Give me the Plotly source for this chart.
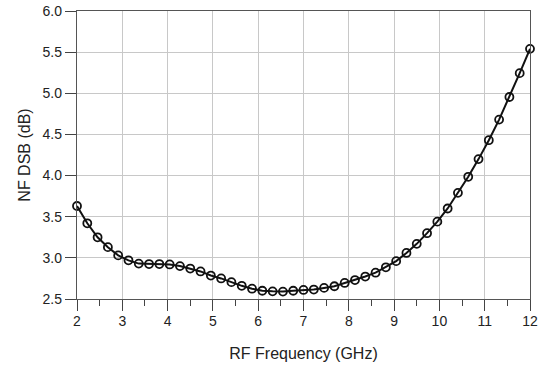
import plotly.graph_objects as go

freq_ghz = [2 + i * 10 / 44 for i in range(45)]
nf_dsb_db = [
    3.63, 3.42, 3.25, 3.13, 3.03, 2.97, 2.93, 2.925, 2.925, 2.92,
    2.90, 2.87, 2.835, 2.785, 2.75, 2.705, 2.66, 2.625, 2.60, 2.593,
    2.59, 2.60, 2.61, 2.615, 2.635, 2.655, 2.695, 2.73, 2.773, 2.82,
    2.885, 2.96, 3.06, 3.17, 3.30, 3.44, 3.60, 3.79, 3.985, 4.20,
    4.43, 4.68, 4.955, 5.245, 5.54,
]
x_ticks = list(range(2, 13))
y_ticks = [2.5, 3.0, 3.5, 4.0, 4.5, 5.0, 5.5, 6.0]
x_title = "RF Frequency (GHz)"
y_title = "NF DSB (dB)"

font_family = "Liberation Sans, Arial, sans-serif"

fig = go.Figure()
fig.add_trace(go.Scatter(
    x=freq_ghz, y=nf_dsb_db, mode="lines+markers",
    line=dict(color="#111111", width=2),
    marker=dict(symbol="circle-open", size=8, color="#111111",
                line=dict(width=1.8, color="#111111")),
    cliponaxis=False, showlegend=False,
))

fig.update_layout(
    width=543, height=367, autosize=False,
    margin=dict(l=77, r=13, t=11, b=68, pad=0, autoexpand=False),
    paper_bgcolor="white", plot_bgcolor="white",
    font=dict(family=font_family, color="#222222"),
)
fig.update_xaxes(
    range=[2, 12], tickvals=x_ticks, ticktext=[str(v) for v in x_ticks],
    showgrid=True, gridcolor="#c8c8c8", gridwidth=1,
    showline=True, linecolor="#555555", linewidth=1.3, mirror=True,
    ticks="outside", ticklen=11, tickwidth=1.3, tickcolor="#444444",
    tickfont=dict(size=14, color="#222222"), ticklabelstandoff=-2,
    minor=dict(dtick=0.5, tick0=2, ticks="outside", ticklen=6, tickwidth=1.2,
               tickcolor="#444444", showgrid=False),
    title=dict(text=x_title, font=dict(size=16, color="#222222"), standoff=19),
    zeroline=False, automargin=False,
)
fig.update_yaxes(
    range=[2.5, 6.0], tickvals=y_ticks, ticktext=[f"{v:.1f}" for v in y_ticks],
    showgrid=True, gridcolor="#c8c8c8", gridwidth=1,
    showline=True, linecolor="#555555", linewidth=1.3, mirror=True,
    ticks="outside", ticklen=11, tickwidth=1.3, tickcolor="#444444",
    tickfont=dict(size=14, color="#222222"),
    title=dict(text=y_title, font=dict(size=16, color="#222222"), standoff=7),
    zeroline=False, automargin=False,
)

fig.write_html("out.html", config={"displayModeBar": False},
               post_script="document.body.style.margin='0';document.body.style.padding='0';")
